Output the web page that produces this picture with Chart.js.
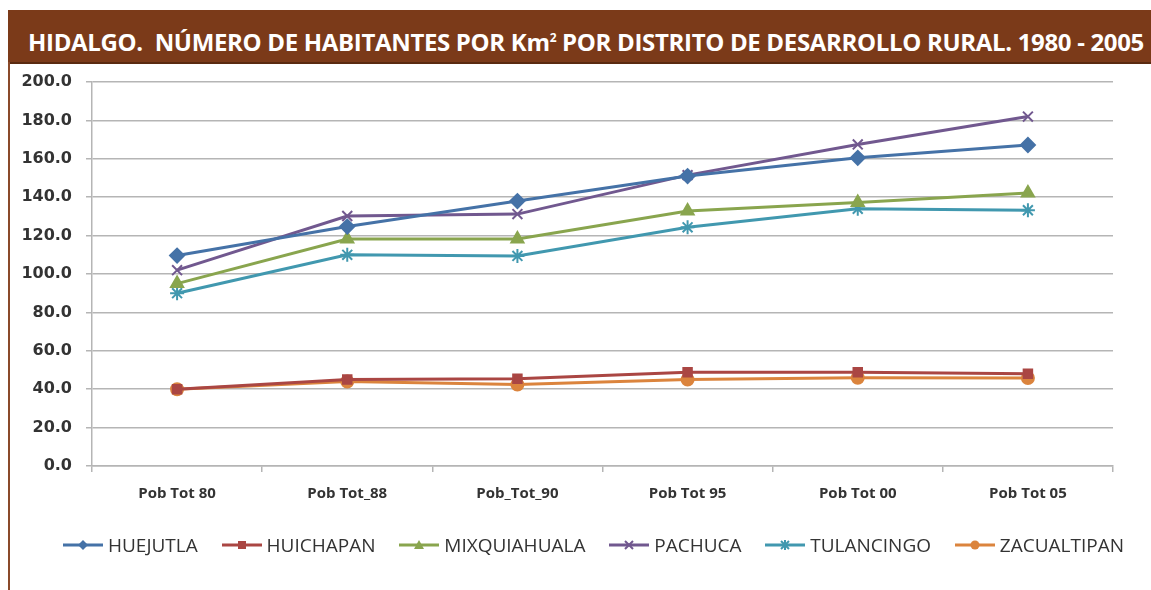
<!DOCTYPE html>
<html>
<head>
<meta charset="utf-8">
<script src="https://cdn.jsdelivr.net/npm/chart.js@4"></script>
<style>
  body { margin: 0; background: #fff; width: 1151px; height: 590px; overflow: hidden; position: relative; }
  #bar { position: absolute; left: 8px; top: 10px; width: 1143px; height: 52px; background: #7b3a19; border-bottom: 2px solid #5a2a10; }
  #bar h1 { margin: 0; color: #fff; font-family: "Open Sans", sans-serif; font-weight: bold; font-size: 24px; line-height: 56px; padding-left: 20px; white-space: nowrap; letter-spacing: -0.33px; }
  #bar sup { font-size: 12px; }
  #edge { position: absolute; left: 8px; top: 62px; width: 2px; height: 528px; background: #8a4a2a; }
  #wrap { position: absolute; left: 0; top: 0; width: 1151px; height: 590px; }
  #legend { position: absolute; left: 62px; width: 1062px; top: 532px; height: 26px; display: flex; justify-content: space-between; align-items: center; font-family: "Open Sans", sans-serif; font-size: 19px; color: #333; }
  #legend span { display: flex; align-items: center; white-space: nowrap; }
  #legend canvas { margin-right: 4px; }
</style>
</head>
<body>
<div id="wrap"><canvas id="myChart" width="1151" height="590"></canvas></div>
<div id="bar"><h1>HIDALGO.&nbsp; NÚMERO DE HABITANTES POR Km<sup>2</sup> POR DISTRITO DE DESARROLLO RURAL. 1980 - 2005</h1></div>
<div id="edge"></div>
<div id="legend"></div>
<script>
const categories = ['Pob Tot 80', 'Pob Tot_88', 'Pob_Tot_90', 'Pob Tot 95', 'Pob Tot 00', 'Pob Tot 05'];
const huejutla = [109.6, 124.7, 138.0, 151.0, 160.5, 167.2];
const huichapan = [40.0, 45.0, 45.5, 48.8, 48.8, 48.0];
const mixquiahuala = [95.0, 118.2, 118.2, 132.8, 137.2, 142.2];
const pachuca = [102.0, 130.2, 131.2, 151.5, 167.5, 182.0];
const tulancingo = [90.0, 110.0, 109.4, 124.3, 134.0, 133.2];
const zacualtipan = [40.0, 44.0, 42.4, 45.0, 46.0, 45.8];

function legendIcon(color, style) {
  const c = document.createElement('canvas');
  c.width = 42; c.height = 14;
  const g = c.getContext('2d');
  g.strokeStyle = color; g.fillStyle = color; g.lineWidth = 3;
  g.beginPath(); g.moveTo(1, 7); g.lineTo(41, 7); g.stroke();
  g.lineWidth = 2;
  const x = 21, y = 7, r = 5;
  g.beginPath();
  if (style === 'rectRot') { g.moveTo(x, y - r); g.lineTo(x + r, y); g.lineTo(x, y + r); g.lineTo(x - r, y); g.closePath(); g.fill(); }
  else if (style === 'rect') { g.fillRect(x - 4, y - 4, 8, 8); }
  else if (style === 'triangle') { g.moveTo(x, y - r); g.lineTo(x + r, y + 4); g.lineTo(x - r, y + 4); g.closePath(); g.fill(); }
  else if (style === 'crossRot') { g.moveTo(x - 4, y - 4); g.lineTo(x + 4, y + 4); g.moveTo(x + 4, y - 4); g.lineTo(x - 4, y + 4); g.stroke(); }
  else if (style === 'star') { g.moveTo(x - 4, y - 4); g.lineTo(x + 4, y + 4); g.moveTo(x + 4, y - 4); g.lineTo(x - 4, y + 4); g.moveTo(x, y - 5); g.lineTo(x, y + 5); g.stroke(); }
  else { g.arc(x, y, 4.5, 0, Math.PI * 2); g.fill(); }
  return c;
}

function ds(label, data, color, style, size) {
  return {
    label: label, data: data, borderColor: color, backgroundColor: color,
    borderWidth: 3, pointStyle: style, pointRadius: size, pointBorderWidth: 2,
    pointHoverRadius: size, tension: 0
  };
}

const ctx = document.getElementById('myChart');
const chart = new Chart(ctx, {
  type: 'line',
  data: {
    labels: categories,
    datasets: [
      ds('HUEJUTLA', huejutla, '#4572a7', 'rectRot', 7),
      ds('HUICHAPAN', huichapan, '#aa4643', 'rect', 6),
      ds('MIXQUIAHUALA', mixquiahuala, '#89a54e', 'triangle', 7),
      ds('PACHUCA', pachuca, '#71588f', 'crossRot', 7),
      ds('TULANCINGO', tulancingo, '#4198af', 'star', 7),
      ds('ZACUALTIPAN', zacualtipan, '#db843d', 'circle', 6)
    ]
  },
  options: {
    responsive: false,
    animation: false,
    layout: { padding: { top: 82, right: 38, left: 10, bottom: 72 } },
    plugins: {
      tooltip: { enabled: false },
      legend: { display: false }
    },
    scales: {
      y: {
        min: 0, max: 200,
        ticks: {
          stepSize: 20, color: '#333', padding: 14,
          font: { family: '"DejaVu Sans", sans-serif', size: 16, weight: 'bold' },
          callback: function (v) { return v.toFixed(1); }
        },
        grid: { color: '#b5b5b5', lineWidth: 1.5, tickLength: 6 },
        border: { color: '#b5b5b5', width: 1.5 },
        afterFit: function (a) { a.width = 82; }
      },
      x: {
        offset: true,
        ticks: {
          color: '#333', padding: 13,
          font: { family: '"Open Sans", sans-serif', size: 15, weight: 'bold' }
        },
        grid: { offset: true, drawOnChartArea: false, color: '#b5b5b5', lineWidth: 1.5, tickLength: 6 },
        border: { color: '#b5b5b5', width: 1.5 },
        afterFit: function (a) { a.height = 52; }
      }
    }
  }
});

// legend as html, built from the datasets
const leg = document.getElementById('legend');
chart.data.datasets.forEach(function (d) {
  const item = document.createElement('span');
  item.appendChild(legendIcon(d.borderColor, d.pointStyle));
  item.appendChild(document.createTextNode(d.label));
  leg.appendChild(item);
});
</script>
</body>
</html>
